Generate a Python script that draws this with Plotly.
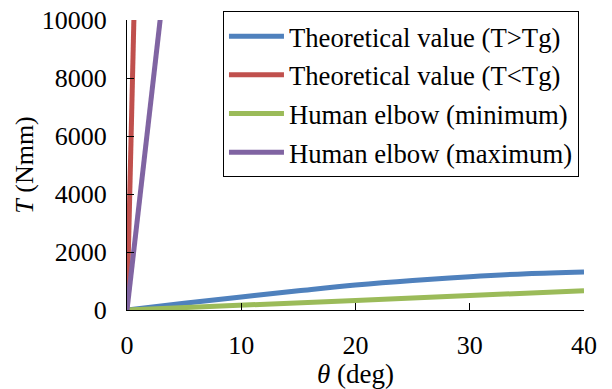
import plotly.graph_objects as go

# Data
theta_blue = [0, 5, 10, 15, 20, 25, 30, 35, 40]
T_blue = [0, 230, 450, 660, 860, 1020, 1150, 1250, 1310]

theta_red = [0, 0.6, 0.8]
T_red = [0, 10000, 13300]

theta_green = [0, 10, 20, 30, 40]
T_green = [0, 150, 330, 500, 665]

theta_purple = [0, 2.9, 3.5]
T_purple = [0, 10000, 12070]

names = ["Theoretical value (T>Tg)", "Theoretical value (T<Tg)",
         "Human elbow (minimum)", "Human elbow (maximum)"]
colors = ["#4F81BD", "#C0504D", "#9BBB59", "#8064A2"]

x_ticks = [0, 10, 20, 30, 40]
y_ticks = [0, 2000, 4000, 6000, 8000, 10000]
y_ticktext = ["0", "2000", "4000", "6000", "8000", "10000"]

fig = go.Figure()
series = [(theta_blue, T_blue), (theta_red, T_red), (theta_green, T_green), (theta_purple, T_purple)]
for i, ((xs, ys), n, c) in enumerate(zip(series, names, colors)):
    fig.add_trace(go.Scatter(x=xs, y=ys, mode="lines", name=n, legendgroup=f"g{i}",
                             line=dict(color=c, width=5, shape="spline" if i == 0 else "linear")))

font_family = "Liberation Serif"
FS = 26
fig.update_layout(
    width=612, height=389,
    margin=dict(l=127, r=28, t=20, b=79, autoexpand=False),
    paper_bgcolor="white", plot_bgcolor="white",
    font=dict(family=font_family, size=FS, color="black"),
    showlegend=True,
    legend=dict(x=0.21, y=1.03, xanchor="left", yanchor="top",
                bordercolor="black", borderwidth=1, bgcolor="white",
                font=dict(family=font_family, size=26.7), tracegroupgap=1, itemwidth=55),
    xaxis=dict(range=[0, 40], tickvals=x_ticks, ticks="inside", ticklen=7,
               tickcolor="black", showline=True, linecolor="black", linewidth=1,
               showgrid=False, zeroline=False, ticklabelstandoff=12, automargin=False,
               tickfont=dict(family=font_family, size=FS),
               title=dict(text="<i>θ</i> (deg)", standoff=0, font=dict(family=font_family, size=27))),
    yaxis=dict(range=[0, 10000], tickvals=y_ticks, ticktext=y_ticktext, ticks="inside", ticklen=7,
               tickcolor="black", showline=True, linecolor="black", linewidth=1,
               showgrid=False, zeroline=False, ticklabelstandoff=14, automargin=False,
               tickfont=dict(family=font_family, size=FS),
               title=dict(text="<i>T</i> (Nmm)", standoff=0, font=dict(family=font_family, size=FS))),
)

fig.write_html("out.html", config={"displayModeBar": False},
               post_script="document.body.style.margin='0';document.body.style.overflow='hidden';")
